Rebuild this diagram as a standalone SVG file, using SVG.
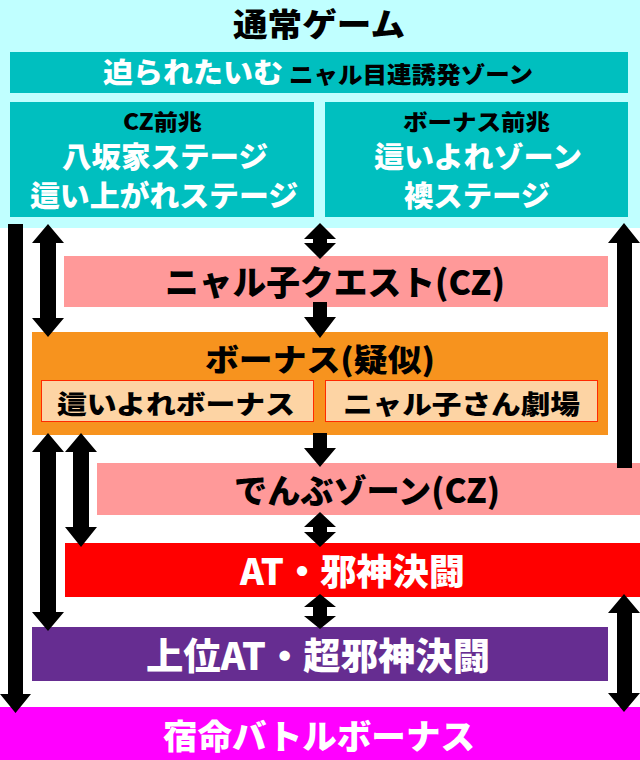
<svg xmlns="http://www.w3.org/2000/svg" width="640" height="760" viewBox="0 0 640 760">
<style>
.t{font-family:"Noto Sans CJK JP","Noto Sans",sans-serif;font-weight:900;}
.w{fill:#ffffff;}
.k{fill:#000000;}
.teal{fill:#00bfbf;}
.arr{fill:#000000;}
</style>
<rect x="0" y="0" width="640" height="760" fill="#ffffff"/>
<g id="normal">
<rect x="0" y="0" width="640" height="228" fill="#c0ffff"/>
<text class="t k" x="233" y="36" font-size="32" textLength="172" lengthAdjust="spacingAndGlyphs">通常ゲーム</text>
</g>
<g id="zone">
<rect class="teal" x="10" y="52" width="618" height="41"/>
<text class="t w" x="103" y="83" font-size="28" textLength="180" lengthAdjust="spacingAndGlyphs">迫られたいむ</text>
<text class="t k" x="289" y="83" font-size="23" textLength="244" lengthAdjust="spacingAndGlyphs">ニャル目連誘発ゾーン</text>
</g>
<g id="cz-omen">
<rect class="teal" x="10" y="102" width="304" height="115"/>
<text class="t k" x="123" y="130" font-size="22" textLength="79" lengthAdjust="spacingAndGlyphs">CZ前兆</text>
<text class="t w" x="62" y="168" font-size="29" textLength="206" lengthAdjust="spacingAndGlyphs">八坂家ステージ</text>
<text class="t w" x="30" y="207" font-size="29" textLength="268" lengthAdjust="spacingAndGlyphs">這い上がれステージ</text>
</g>
<g id="bonus-omen">
<rect class="teal" x="325" y="102" width="303" height="115"/>
<text class="t k" x="403" y="130" font-size="22" textLength="147" lengthAdjust="spacingAndGlyphs">ボーナス前兆</text>
<text class="t w" x="374" y="168" font-size="29" textLength="208" lengthAdjust="spacingAndGlyphs">這いよれゾーン</text>
<text class="t w" x="404" y="207" font-size="29" textLength="146" lengthAdjust="spacingAndGlyphs">襖ステージ</text>
</g>
<g id="nyarko-quest">
<rect x="64" y="256" width="544" height="51" fill="#ff9999"/>
<text class="t k" x="165" y="295" font-size="34" textLength="340" lengthAdjust="spacingAndGlyphs">ニャル子クエスト(CZ)</text>
</g>
<g id="bonus">
<rect x="32" y="332" width="576" height="103" fill="#f7931e"/>
<text class="t k" x="205" y="371" font-size="31" textLength="230" lengthAdjust="spacingAndGlyphs">ボーナス(疑似)</text>
<rect x="41.5" y="380.5" width="272" height="41" fill="#fdd4a4" stroke="#ff2a00" stroke-width="1"/>
<text class="t k" x="57" y="414" font-size="26" textLength="238" lengthAdjust="spacingAndGlyphs">這いよれボーナス</text>
<rect x="325.5" y="380.5" width="272" height="41" fill="#fdd4a4" stroke="#ff2a00" stroke-width="1"/>
<text class="t k" x="343" y="414" font-size="26" textLength="237" lengthAdjust="spacingAndGlyphs">ニャル子さん劇場</text>
</g>
<g id="denbu-zone">
<rect x="97" y="463" width="543" height="52" fill="#ff9999"/>
<text class="t k" x="234" y="503" font-size="33" textLength="266" lengthAdjust="spacingAndGlyphs">でんぶゾーン(CZ)</text>
</g>
<g id="at">
<rect x="65" y="543" width="575" height="54" fill="#ff0000"/>
<text class="t w" x="240" y="585" font-size="36" textLength="225" lengthAdjust="spacingAndGlyphs">AT・邪神決闘</text>
</g>
<g id="super-at">
<rect x="32" y="627" width="576" height="54" fill="#662d91"/>
<text class="t w" x="146" y="670" font-size="37" textLength="344" lengthAdjust="spacingAndGlyphs">上位AT・超邪神決闘</text>
</g>
<g id="fate-bonus">
<rect x="0" y="707" width="640" height="53" fill="#ff00ff"/>
<text class="t w" x="163" y="749" font-size="34" textLength="312" lengthAdjust="spacingAndGlyphs">宿命バトルボーナス</text>
</g>
<g id="connectors" class="arr">
<polygon points="8,224 23,224 23,694 31,694 15.5,713 0,694 8,694"/>
<polygon points="48,224 64,243 56,243 56,318 64,318 48,337 32,318 40,318 40,243 32,243"/>
<polygon points="320,223 336,239 327,239 327,243 336,243 320,259 304,243 313,243 313,239 304,239"/>
<polygon points="313,302 327,302 327,317 336,317 320,338 304,317 313,317"/>
<polygon points="624,223 640,243 632,243 632,468 617,468 617,243 608,243"/>
<polygon points="313,433 327,433 327,448 336,448 320,467 304,448 313,448"/>
<polygon points="48,433 64,452 56,452 56,612 64,612 48,631 32,612 40,612 40,452 32,452"/>
<polygon points="81,433 97,452 89,452 89,527 97,527 81,547 65,527 73,527 73,452 65,452"/>
<polygon points="320,512 336,527 327,527 327,532 336,532 320,547 304,532 313,532 313,527 304,527"/>
<polygon points="320,594 336,607 327,607 327,616 336,616 320,629 304,616 313,616 313,607 304,607"/>
<polygon points="624,594 640,613 632,613 632,693 640,693 624,712 608,693 617,693 617,613 608,613"/>
</g>
</svg>
